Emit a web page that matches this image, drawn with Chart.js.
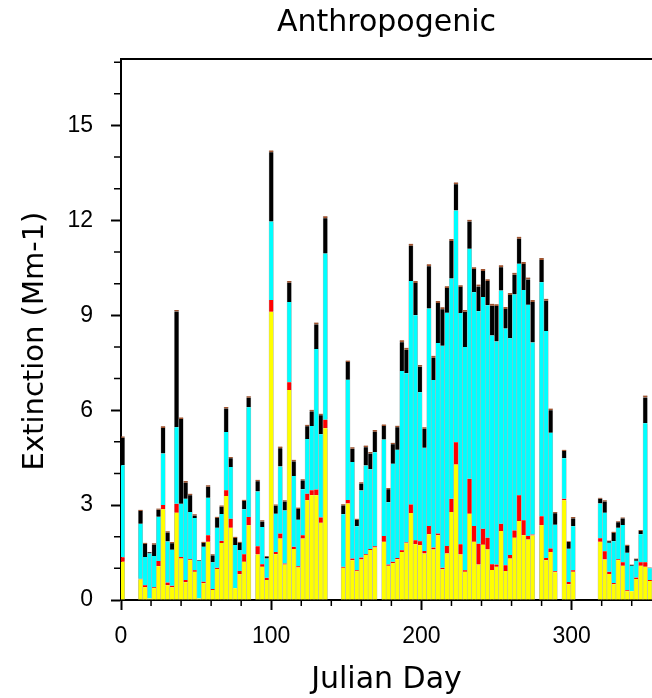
<!DOCTYPE html>
<html>
<head>
<meta charset="utf-8">
<script src="https://cdn.jsdelivr.net/npm/chart.js@4.4.0/dist/chart.umd.min.js"></script>
<style>
html,body{margin:0;padding:0;background:#fff;overflow:hidden}
#wrap{width:652px;height:698px;position:relative}
</style>
</head>
<body>
<div id="wrap"><canvas id="c" width="652" height="698"></canvas></div>
<script>
// Julian days of the samples (every 3rd day, gaps where no data)
const days = [1,13,16,19,22,25,28,31,34,37,40,43,46,49,52,55,58,61,64,67,70,73,76,79,82,85,91,94,97,100,103,106,109,112,115,118,121,124,127,130,133,136,148,151,154,157,160,163,166,169,175,178,181,184,187,190,193,196,199,202,205,208,211,214,217,220,223,226,229,232,235,238,241,244,247,250,253,256,259,262,265,268,271,274,280,283,286,289,295,298,301,319,322,325,328,331,334,337,340,343,346,349,352];

const yellowPart = [1.21,0.65,0.40,0.05,0.37,1.07,2.87,0.47,0.40,2.76,1.31,0.56,1.26,0.89,0.05,0.53,1.84,0.32,0.98,1.80,3.29,2.28,0.37,0.81,1.21,2.36,1.44,1.05,0.63,9.11,1.45,1.94,1.12,6.64,1.61,1.03,1.94,3.15,3.31,3.31,2.44,5.43,1.02,3.05,1.26,0.91,1.28,1.42,1.58,1.66,1.84,1.08,1.16,1.29,1.52,1.79,2.75,1.76,1.73,1.47,2.08,1.60,2.05,0.97,1.47,2.78,4.28,1.44,0.89,2.73,1.84,1.12,1.75,1.60,0.95,1.05,2.18,0.92,1.31,1.97,2.50,2.05,1.91,2.04,2.36,1.26,1.52,0.88,3.15,0.50,0.89,1.84,1.28,0.82,0.50,1.26,1.08,0.28,0.28,0.66,1.08,1.05,0.60];

const redPart = [0.14,0.02,0.07,0.00,0.03,0.16,0.13,0.08,0.05,0.28,0.05,0.07,0.03,0.05,0.00,0.05,0.21,0.03,0.04,0.07,0.18,0.29,0.00,0.11,0.24,0.26,0.26,0.08,0.07,0.37,0.07,0.16,0.03,0.24,0.07,0.04,0.11,0.21,0.16,0.18,0.17,0.27,0.03,0.11,0.05,0.03,0.06,0.03,0.03,0.04,0.18,0.04,0.05,0.04,0.05,0.03,0.27,0.13,0.13,0.08,0.26,0.06,0.05,0.05,0.24,0.42,0.71,0.32,0.05,1.10,0.50,0.66,0.50,0.37,0.18,0.07,0.23,0.18,0.11,0.23,0.81,0.47,0.11,0.03,0.29,0.07,0.11,0.03,0.05,0.07,0.05,0.11,0.26,0.07,0.04,0.03,0.11,0.03,0.00,0.05,0.11,0.14,0.03];

const cyanPart = [2.91,1.74,0.89,1.42,0.99,1.40,1.63,1.30,1.14,2.42,1.68,2.57,1.49,1.65,1.18,1.10,1.18,0.84,1.26,0.85,1.84,1.63,1.37,0.66,1.42,3.47,1.73,1.18,0.61,2.48,1.21,2.12,1.68,2.54,2.24,1.47,1.45,1.73,2.03,4.44,2.63,5.25,1.66,3.80,3.05,1.39,2.12,2.80,2.52,2.97,3.05,1.97,3.10,3.42,5.67,5.35,7.06,7.11,4.71,3.26,6.87,5.29,6.02,7.02,7.37,6.96,7.32,7.31,7.06,7.27,7.39,7.35,7.33,7.35,7.23,7.05,7.37,7.48,6.85,7.46,7.32,7.28,7.31,6.07,7.39,7.17,3.66,1.47,1.28,1.05,1.39,1.10,1.22,0.92,1.32,0.99,1.18,1.18,0.80,0.53,0.89,4.40,0.37];

const blackPart = [0.87,0.40,0.41,0.04,0.36,0.22,0.81,0.28,0.20,3.66,2.68,0.51,0.53,0.08,0.02,0.12,0.35,0.22,0.31,0.23,0.74,0.28,0.22,0.22,0.26,0.30,0.32,0.17,0.06,2.19,0.25,0.58,0.28,0.61,0.46,0.34,0.28,0.40,0.46,0.78,0.60,1.12,0.28,0.56,0.42,0.20,0.22,0.58,0.50,0.65,0.43,0.41,0.61,0.71,0.91,0.74,1.12,1.02,0.80,0.60,1.34,0.71,1.27,1.15,0.78,1.19,0.83,0.82,1.11,0.86,0.73,0.78,0.82,0.76,0.94,1.12,0.74,0.62,1.37,0.62,0.79,0.82,0.80,1.28,0.71,0.96,0.71,0.36,0.23,0.21,0.25,0.15,0.35,0.05,0.26,0.18,0.21,0.22,0.03,0.05,0.10,0.81,0.02];

const brownPart = [0.04,0.04,0.04,0.01,0.04,0.04,0.05,0.04,0.04,0.05,0.05,0.05,0.05,0.04,0.01,0.04,0.05,0.04,0.04,0.04,0.05,0.04,0.04,0.04,0.04,0.05,0.05,0.04,0.02,0.06,0.04,0.05,0.04,0.05,0.05,0.04,0.04,0.05,0.05,0.06,0.05,0.06,0.04,0.05,0.05,0.04,0.04,0.05,0.05,0.05,0.05,0.04,0.05,0.05,0.06,0.06,0.06,0.06,0.06,0.05,0.06,0.06,0.06,0.06,0.06,0.06,0.06,0.06,0.06,0.06,0.06,0.06,0.06,0.06,0.06,0.06,0.06,0.06,0.06,0.06,0.06,0.06,0.06,0.06,0.06,0.06,0.05,0.04,0.04,0.03,0.04,0.03,0.04,0.02,0.04,0.03,0.03,0.04,0.01,0.02,0.03,0.06,0.01];

const chartTitle = 'Anthropogenic';
const xTitle = 'Julian Day';
const yTitle = 'Extinction (Mm-1)';
const yMajorTicks = [0, 3, 6, 9, 12, 15];
const xMajorTicks = [0, 100, 200, 300];

function series(vals) { return days.map((d, i) => ({x: d, y: vals[i]})); }

const barCommon = {
  barPercentage: 1.0,
  categoryPercentage: 1.0,
  borderWidth: {left: 0.6, right: 0.6, top: 0, bottom: 0},
  borderColor: '#b4b4b4',
  borderSkipped: false
};

const framePlugin = {
  id: 'framePlugin',
  afterDraw(chart) {
    const {ctx, chartArea: a, scales: {x, y}} = chart;
    ctx.save();
    ctx.strokeStyle = '#000';
    ctx.lineWidth = 2;
    ctx.beginPath();
    ctx.moveTo(a.left - 1, a.top);
    ctx.lineTo(a.right + 2, a.top);
    ctx.stroke();
    ctx.lineWidth = 1.5;
    ctx.beginPath();
    for (let v = 1; v <= 17; v++) {
      if (yMajorTicks.includes(v)) continue;
      const py = y.getPixelForValue(v);
      ctx.moveTo(a.left - 7, py); ctx.lineTo(a.left, py);
    }
    for (let v = 20; v <= 340; v += 20) {
      if (xMajorTicks.includes(v)) continue;
      const px = x.getPixelForValue(v);
      ctx.moveTo(px, a.bottom); ctx.lineTo(px, a.bottom + 6);
    }
    ctx.stroke();
    ctx.translate(35, 341);
    ctx.rotate(-Math.PI / 2);
    ctx.font = '29px "DejaVu Sans"';
    ctx.fillStyle = '#000';
    ctx.textAlign = 'center';
    ctx.textBaseline = 'middle';
    ctx.fillText(yTitle, 0, 0);
    ctx.restore();
  }
};

new Chart(document.getElementById('c'), {
  type: 'bar',
  data: {
    datasets: [
      Object.assign({label: 'yellow', data: series(yellowPart), backgroundColor: '#ffff00'}, barCommon),
      Object.assign({label: 'red', data: series(redPart), backgroundColor: '#ff0000'}, barCommon),
      Object.assign({label: 'cyan', data: series(cyanPart), backgroundColor: '#00ffff'}, barCommon),
      Object.assign({label: 'black', data: series(blackPart), backgroundColor: '#000000'}, barCommon),
      Object.assign({label: 'brown', data: series(brownPart), backgroundColor: '#a0522d'}, barCommon)
    ]
  },
  options: {
    responsive: false,
    animation: false,
    layout: {padding: 0},
    plugins: {
      legend: {display: false},
      tooltip: {enabled: false},
      title: {
        display: true,
        text: chartTitle,
        fullSize: false,
        color: '#000',
        font: {family: 'DejaVu Sans', size: 30, weight: 'normal', lineHeight: 1.2},
        padding: {top: 5, bottom: 18}
      }
    },
    scales: {
      x: {
        type: 'linear',
        stacked: true,
        min: 0,
        max: 353.5,
        offset: false,
        afterFit(s) { s.height = 98; },
        border: {display: true, color: '#000', width: 2},
        grid: {
          offset: false,
          drawOnChartArea: false,
          drawTicks: true,
          tickLength: 10,
          tickWidth: 2,
          tickColor: c => (c.tick && xMajorTicks.includes(c.tick.value)) ? '#000' : 'rgba(0,0,0,0)'
        },
        ticks: {
          stepSize: 20,
          includeBounds: false,
          autoSkip: false,
          maxRotation: 0,
          padding: 13,
          color: '#000',
          font: {family: 'Liberation Sans', size: 23},
          callback: v => xMajorTicks.includes(v) ? String(v) : ''
        },
        title: {
          display: true,
          text: xTitle,
          color: '#000',
          font: {family: 'DejaVu Sans', size: 30, lineHeight: 1.2},
          padding: {top: 0, bottom: 0}
        }
      },
      y: {
        stacked: true,
        min: 0,
        max: 17.1,
        afterFit(s) { s.width = 121; },
        border: {display: true, color: '#000', width: 2},
        grid: {
          drawOnChartArea: false,
          drawTicks: true,
          tickLength: 10,
          tickWidth: 2,
          tickColor: c => (c.tick && yMajorTicks.includes(c.tick.value)) ? '#000' : 'rgba(0,0,0,0)'
        },
        ticks: {
          stepSize: 1,
          includeBounds: false,
          autoSkip: false,
          padding: 18,
          color: '#000',
          font: {family: 'Liberation Sans', size: 23},
          callback: v => yMajorTicks.includes(v) ? String(v) : ''
        }
      }
    }
  },
  plugins: [framePlugin]
});
</script>
</body>
</html>
